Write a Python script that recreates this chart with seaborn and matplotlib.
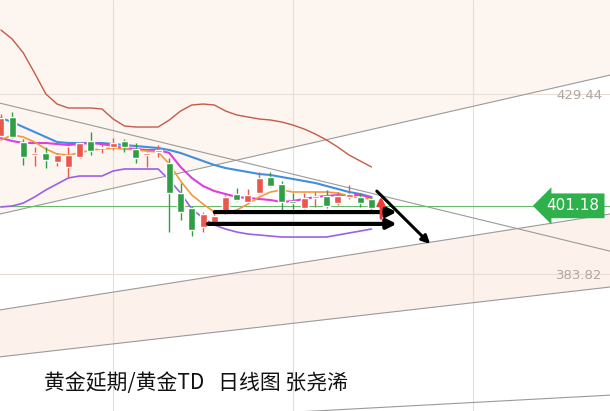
import numpy as np
import pandas as pd
import seaborn as sns
import matplotlib.pyplot as plt

# daily candles (price)
opens  = [418.87, 423.69, 417.35, 414.06, 414.57, 412.28, 411.02, 413.55, 417.61, 415.83,
          416.08, 417.61, 415.58, 414.06, 414.82, 412.03, 404.43, 400.62, 395.81, 396.82,
          399.36, 404.17, 402.14, 404.43, 408.48, 406.71, 402.40, 400.62, 403.16, 403.67,
          401.89, 403.41, 403.41, 402.91]
highs  = [424.45, 424.95, 418.12, 416.08, 416.08, 414.57, 416.08, 417.30, 419.89, 416.84,
          418.37, 418.12, 417.10, 414.70, 416.59, 413.30, 406.96, 401.13, 399.61, 399.61,
          403.92, 405.69, 405.44, 409.75, 409.75, 407.47, 404.43, 404.43, 404.68, 405.19,
          404.68, 406.45, 404.43, 403.41]
lows   = [418.62, 418.37, 411.52, 411.27, 410.76, 411.27, 408.50, 413.30, 414.06, 414.57,
          415.32, 414.82, 412.03, 411.02, 413.55, 394.54, 397.58, 393.53, 394.54, 396.57,
          399.10, 402.40, 401.89, 404.17, 405.95, 399.61, 400.37, 400.37, 400.88, 400.62,
          401.39, 402.91, 400.88, 400.12]
closes = [423.43, 418.62, 413.55, 414.57, 412.79, 414.06, 414.06, 417.10, 415.07, 416.08,
          417.10, 416.08, 413.30, 414.57, 415.32, 404.43, 399.61, 395.05, 399.10, 398.60,
          403.41, 402.65, 403.92, 408.23, 406.20, 402.14, 401.89, 403.16, 403.67, 401.13,
          403.67, 404.17, 401.89, 400.62]

# indicator lines
ma5 = [417.86, 419.13, 418.62, 417.35, 415.58, 414.31, 414.06, 414.57, 415.32, 415.58,
       415.83, 415.58, 415.32, 415.07, 414.82, 411.78, 407.47, 403.92, 401.64, 399.61,
       399.36, 400.12, 401.64, 403.41, 404.68, 405.19, 404.68, 404.68, 404.68, 404.68,
       404.43, 403.67, 403.16, 402.91]
ma10 = [418.37, 417.61, 417.10, 417.10, 417.10, 416.84, 416.59, 416.84, 417.10, 416.84,
        416.34, 415.83, 415.58, 415.32, 415.32, 414.57, 411.02, 408.23, 406.20, 404.93,
        404.17, 403.41, 403.16, 402.91, 402.65, 402.14, 402.40, 402.91, 403.41, 403.67,
        403.92, 403.92, 403.92, 403.16]
boll_mid = [423.43, 422.42, 421.15, 419.89, 418.62, 417.35, 417.10, 417.10, 417.10, 417.10,
            416.84, 416.59, 416.34, 416.08, 415.83, 415.32, 414.57, 413.55, 412.54, 411.52,
            410.76, 410.25, 409.75, 409.24, 408.99, 408.48, 407.98, 407.47, 406.96, 406.20,
            405.44, 404.68, 404.17, 403.41]
boll_up = [445.74, 443.46, 439.91, 434.84, 429.52, 426.98, 425.97, 425.97, 425.97, 425.72,
           423.18, 421.41, 421.15, 421.15, 421.15, 422.93, 425.21, 426.73, 426.98, 426.73,
           425.21, 424.20, 423.69, 423.18, 422.93, 422.42, 421.66, 420.65, 419.38, 417.86,
           416.08, 414.06, 412.54, 411.02]
boll_low = [400.88, 401.13, 401.89, 403.41, 405.19, 406.71, 408.23, 408.73, 408.73, 408.73,
            410.01, 410.51, 410.51, 410.51, 410.51, 407.72, 404.43, 400.37, 398.09, 396.31,
            395.30, 394.54, 394.03, 393.78, 393.53, 393.27, 393.27, 393.27, 393.27, 393.27,
            393.78, 394.29, 394.79, 395.30]

# hand drawn lines, price at the left and right edge
edge_x = [-0.08, 54.24]
trend_down = [427.2, 389.7]
chan_top = [399.1, 434.3]
chan_mid = [374.8, 399.1]
chan_low = [362.9, 380.6]
chan_bot = [344.9, 353.2]

last_price = 401.18
grid_prices = [429.44, 383.82]
grid_days = [10, 26, 42]
title = "黄金延期/黄金TD   日线图 张尧浠"

sns.set_style("white")
plt.rcParams['font.family'] = ['Noto Sans CJK SC', 'DejaVu Sans']

df = pd.DataFrame({"day": np.arange(len(opens)), "open": opens, "high": highs,
                   "low": lows, "close": closes, "ma5": ma5, "ma10": ma10,
                   "mid": boll_mid, "up": boll_up, "lo": boll_low})

fig = plt.figure(figsize=(6.1, 4.11), dpi=100)
ax = fig.add_axes([0, 0, 1, 1])
ax.set_xlim(edge_x)
ax.set_ylim(349.18, 453.34)
ax.set_axis_off()

# background bands
xx = np.linspace(edge_x[0], edge_x[1], 50)
top = np.interp(xx, edge_x, chan_top)
mid = np.interp(xx, edge_x, chan_mid)
low = np.interp(xx, edge_x, chan_low)
ax.fill_between(xx, top, 460, color="#fdf5ef", lw=0, zorder=0)
ax.fill_between(xx, low, mid, color="#fcf1eb", lw=0, zorder=0)

# grid
for p in grid_prices:
    ax.axhline(p, color="#e8dcd6", lw=0.8, zorder=1)
for d in grid_days:
    ax.axvline(d, color="#e8dcd6", lw=0.8, zorder=1)

# trend / channel lines
for ys in [trend_down, chan_top, chan_mid, chan_low, chan_bot]:
    ax.plot(edge_x, ys, color="#9a9a9a", lw=0.8, zorder=2)

ax.axhline(last_price, color="#66bb6a", lw=0.8, zorder=2)

# indicator lines
sns.lineplot(data=df, x="day", y="up", color="#c65a48", lw=1.0, ax=ax, zorder=3)
sns.lineplot(data=df, x="day", y="lo", color="#9d5fe3", lw=1.2, ax=ax, zorder=3)
sns.lineplot(data=df, x="day", y="mid", color="#3f8fe0", lw=1.5, ax=ax, zorder=3)
sns.lineplot(data=df, x="day", y="ma10", color="#e23be0", lw=1.5, ax=ax, zorder=3)
sns.lineplot(data=df, x="day", y="ma5", color="#f29a3b", lw=1.2, ax=ax, zorder=3)

# candles
up = df["close"] >= df["open"]
cols = np.where(up, "#e9584a", "#2f9e44")
ax.vlines(df["day"], df["low"], df["high"], colors=cols, lw=1, zorder=4)
body = np.maximum((df["close"] - df["open"]).abs(), 0.3)
ax.bar(df["day"], body, bottom=np.minimum(df["open"], df["close"]), width=0.62,
       color=cols, zorder=5)

# drawn arrows
arr = dict(arrowstyle="-|>", color="black", lw=3, mutation_scale=14)
ax.annotate("", xy=(35.5, 399.6), xytext=(18.8, 399.6), arrowprops=arr, zorder=6)
ax.annotate("", xy=(35.5, 396.6), xytext=(18.2, 396.6), arrowprops=arr, zorder=6)
ax.annotate("", xy=(38.4, 391.0), xytext=(33.3, 405.4),
            arrowprops=dict(arrowstyle="-|>", color="black", lw=2.2, mutation_scale=12), zorder=6)
ax.annotate("", xy=(33.85, 404.2), xytext=(33.85, 397.3),
            arrowprops=dict(arrowstyle="-|>", color="#f03a35", lw=2, mutation_scale=11), zorder=6)

# price labels
yt = ax.get_yaxis_transform()
for p in grid_prices:
    ax.text(0.987, p - 0.4, f"{p:.2f}", transform=yt, ha="right", va="center",
            color="#b0a7a2", fontsize=9.5, family="DejaVu Sans")
ax.text(0.983, last_price, f"{last_price:.2f}", transform=yt, ha="right", va="center",
        color="white", fontsize=11, family="DejaVu Sans",
        bbox=dict(boxstyle="larrow,pad=0.32", fc="#2eb14a", ec="none"), zorder=7)

fig.text(44 / 610, 1 - 383 / 411, title, fontsize=15, ha="left", va="center", color="#111111")

fig.savefig("out.png", dpi=100)
